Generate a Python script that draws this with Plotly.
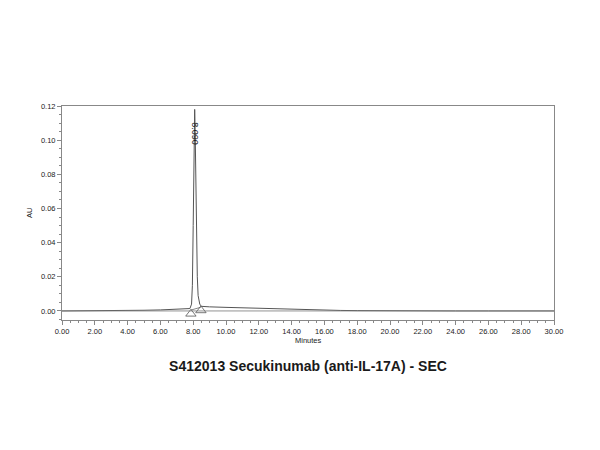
import plotly.graph_objects as go

# Chromatogram trace (minutes, AU)
time_min = [0, 1, 2, 3, 4, 5, 6, 7, 7.5, 7.8, 7.9, 7.95, 8.0, 8.03, 8.06, 8.09, 8.12, 8.15, 8.2, 8.25, 8.3, 8.4, 8.5, 8.7, 9, 10, 11, 12, 13, 14, 15, 16, 17, 18, 19, 20, 22, 24, 26, 28, 30]
absorb_au = [0.0, 0.0, 0.0001, 0.0002, 0.0003, 0.0004, 0.0006, 0.0008, 0.001, 0.0014, 0.004, 0.015, 0.05, 0.085, 0.11, 0.118, 0.105, 0.08, 0.045, 0.02, 0.009, 0.004, 0.0027, 0.0025, 0.0024, 0.0021, 0.0018, 0.0015, 0.0012, 0.0009, 0.0007, 0.0005, 0.0003, 0.0002, 0.0001, 0.0, 0.0, 0.0, 0.0, 0.0, 0.0]

# Integration baseline and markers
base_t = [7.86, 8.47]
base_au = [0.0005, 0.0022]
marker_t = [7.86, 8.47]
marker_au = [-0.0017, 0.0003]

peak_label = "8.090"
peak_t = 8.09
peak_label_au = 0.1036

title_text = "S412013 Secukinumab (anti-IL-17A) - SEC"
x_title = "Minutes"
y_title = "AU"

TXT = "#222222"

fig = go.Figure()
fig.add_trace(go.Scatter(x=time_min, y=absorb_au, mode="lines",
                         line=dict(color="#555555", width=1), hoverinfo="skip"))
fig.add_trace(go.Scatter(x=base_t, y=base_au, mode="lines",
                         line=dict(color="#666666", width=0.8), hoverinfo="skip"))
fig.add_trace(go.Scatter(x=marker_t, y=marker_au, mode="markers",
                         marker=dict(symbol="triangle-up-open", size=9, color="#555555",
                                     line=dict(width=0.8)), hoverinfo="skip"))
fig.add_trace(go.Scatter(x=[0, 30], y=[0, 0], mode="lines",
                         line=dict(color="#777777", width=0.8), hoverinfo="skip"))

fig.add_annotation(x=peak_t, y=peak_label_au, text=peak_label, showarrow=False,
                   textangle=90, font=dict(family="Liberation Sans", size=9, color=TXT))
fig.add_annotation(x=0.5, y=-0.098, xref="paper", yref="paper", text=x_title, showarrow=False,
                   xanchor="center", yanchor="middle",
                   font=dict(family="Liberation Sans", size=7.5, color=TXT))
fig.add_annotation(x=-0.067, y=0.5, xref="paper", yref="paper", text=y_title, showarrow=False,
                   textangle=-90, xanchor="center", yanchor="middle",
                   font=dict(family="Liberation Sans", size=7.5, color=TXT))

fig.update_layout(
    width=600, height=450,
    margin=dict(l=54, r=54, t=98, b=138, autoexpand=False),
    paper_bgcolor="white", plot_bgcolor="white",
    showlegend=False,
    font=dict(family="Liberation Sans", size=7, color=TXT),
    title=dict(text="<b>" + title_text + "</b>", x=0.5, xanchor="center",
               y=1 - 358 / 450, yanchor="middle",
               font=dict(family="Liberation Sans", size=14, color="#1a1a1a")),
)

fig.update_xaxes(range=[0, 30], tickmode="linear", tick0=0, dtick=2, tickformat=".2f",
                 showgrid=False, zeroline=False, showline=True, linecolor="#888888", linewidth=1,
                 mirror=True, ticks="outside", ticklen=4, tickcolor="#888888", automargin=False,
                 minor=dict(dtick=0.5, ticks="outside", ticklen=2, tickcolor="#888888"),
                 tickfont=dict(size=7.5, color=TXT))
fig.update_yaxes(range=[-0.0053, 0.12], tickmode="linear", tick0=0, dtick=0.02, tickformat=".2f",
                 showgrid=False, zeroline=False, showline=True, linecolor="#888888", linewidth=1,
                 mirror=True, ticks="outside", ticklen=4, tickcolor="#888888", automargin=False,
                 minor=dict(dtick=0.005, ticks="outside", ticklen=2, tickcolor="#888888"),
                 tickfont=dict(size=7.5, color=TXT))

fig.write_html("out.html")
